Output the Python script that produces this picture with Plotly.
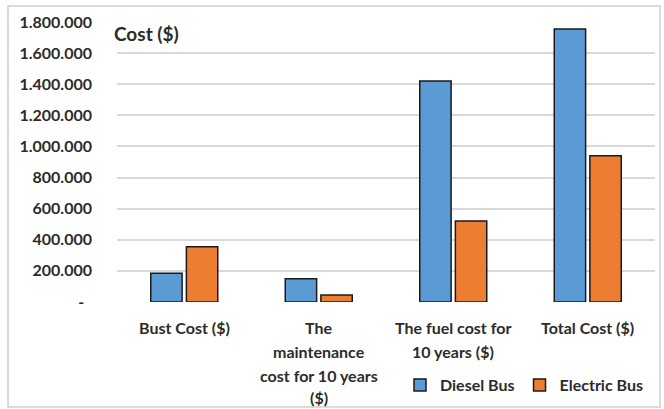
import plotly.graph_objects as go

categories = ["Bust Cost ($)", "The maintenance cost for 10 years ($)",
              "The fuel cost for 10 years ($)", "Total Cost ($)"]
category_lines = [["Bust Cost ($)"],
                  ["The", "maintenance", "cost for 10 years", "($)"],
                  ["The fuel cost for", "10 years ($)"],
                  ["Total Cost ($)"]]
diesel = [185000, 150000, 1420000, 1755000]
electric = [355000, 45000, 520000, 940000]
tick_vals = [0, 200000, 400000, 600000, 800000, 1000000, 1200000, 1400000, 1600000, 1800000]
tick_text = ["-\u00a0\u00a0", "200.000", "400.000", "600.000", "800.000", "1.000.000",
             "1.200.000", "1.400.000", "1.600.000", "1.800.000"]

FONT = "Lato"
TXT = "#2b2b2b"
W, H = 664, 409
ml, mr, mt, mb = 117, 9, 22, 107
pw, ph = W - ml - mr, H - mt - mb

def px_x(p):
    return (p - ml) / pw

def px_y(p):
    return (H - mb - p) / ph

fig = go.Figure()
fig.add_trace(go.Bar(name="Diesel Bus", x=categories, y=diesel,
                     marker=dict(color="#5b9bd5", line=dict(color="#1a1a1a", width=1.5))))
fig.add_trace(go.Bar(name="Electric Bus", x=categories, y=electric,
                     marker=dict(color="#ed7d31", line=dict(color="#1a1a1a", width=1.5))))

annotations = []
line_y = [327, 351, 375, 397]
for cat, lines in zip(categories, category_lines):
    for i, ln in enumerate(lines):
        annotations.append(dict(x=cat, xref="x", y=px_y(line_y[i]), yref="paper",
                                text=ln, showarrow=False, xanchor="center", yanchor="middle",
                                font=dict(family=FONT, size=16, color=TXT, weight="bold")))
annotations.append(dict(x=px_x(112), y=px_y(34), xref="paper", yref="paper", text="Cost ($)",
                        showarrow=False, xanchor="left", yanchor="middle",
                        font=dict(family=FONT, size=19, color=TXT, weight="bold")))

fig.update_layout(
    width=W, height=H,
    margin=dict(l=ml, r=mr, t=mt, b=mb, autoexpand=False),
    paper_bgcolor="white", plot_bgcolor="white",
    barmode="group", bargap=0.47, bargroupgap=0.12,
    font=dict(family=FONT, size=16, color=TXT),
    xaxis=dict(showticklabels=False, showgrid=False, zeroline=False, showline=False),
    yaxis=dict(range=[0, 1800000], tickvals=tick_vals, ticktext=tick_text,
               showgrid=True, gridcolor="#d9d9d9", gridwidth=1.5, zeroline=False,
               showline=False, ticklabelstandoff=24, automargin=False,
               tickfont=dict(family=FONT, size=16, color=TXT, weight="bold")),
    legend=dict(orientation="h", x=px_x(400), y=px_y(368), xanchor="left", yanchor="top",
                font=dict(family=FONT, size=16, color=TXT, weight="bold"),
                bgcolor="rgba(0,0,0,0)", itemwidth=30),
    annotations=annotations,
    shapes=[dict(type="rect", xref="paper", yref="paper",
                 x0=px_x(8), x1=px_x(660), y0=px_y(407), y1=px_y(6),
                 line=dict(color="#d0d0d0", width=1.5), fillcolor="rgba(0,0,0,0)", layer="below")],
)

fig.write_html("out.html")
